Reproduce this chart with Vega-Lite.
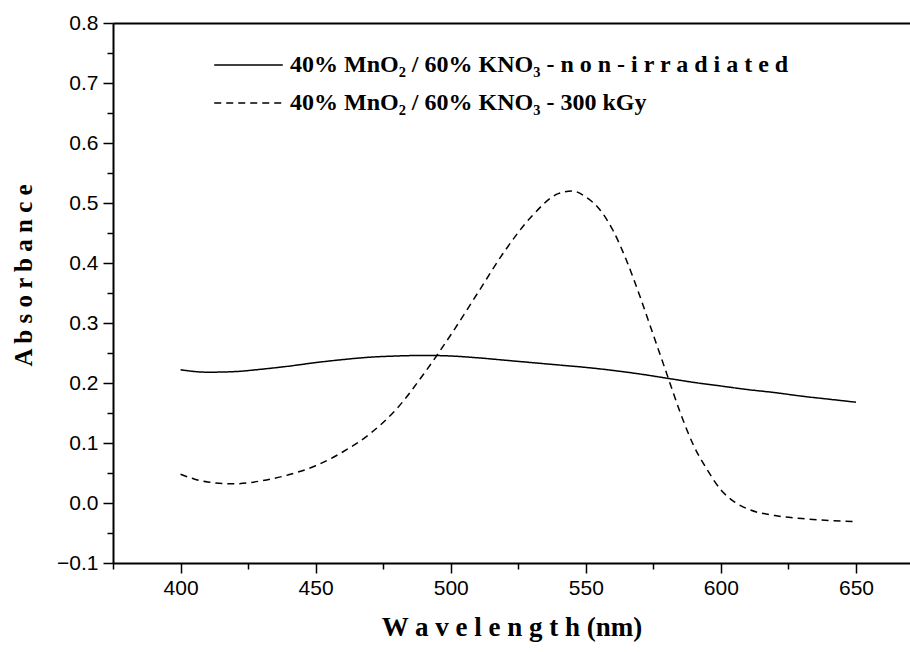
{
  "$schema": "https://vega.github.io/schema/vega-lite/v6.json",
  "width": 797,
  "height": 540,
  "autosize": "none",
  "padding": {"left": 113, "top": 23, "right": 0, "bottom": 89},
  "background": "white",
  "config": {
    "view": {"stroke": null},
    "axis": {"domainColor": "black", "tickColor": "black", "labelColor": "black", "titleColor": "black", "grid": false, "domainWidth": 2, "tickWidth": 1.5}
  },
  "data": {
    "values": [
      {"series": "s1", "wavelength": 400, "absorbance": 0.222},
      {"series": "s1", "wavelength": 410, "absorbance": 0.218},
      {"series": "s1", "wavelength": 420, "absorbance": 0.219},
      {"series": "s1", "wavelength": 430, "absorbance": 0.223},
      {"series": "s1", "wavelength": 440, "absorbance": 0.228},
      {"series": "s1", "wavelength": 450, "absorbance": 0.234},
      {"series": "s1", "wavelength": 460, "absorbance": 0.239},
      {"series": "s1", "wavelength": 470, "absorbance": 0.243},
      {"series": "s1", "wavelength": 480, "absorbance": 0.245},
      {"series": "s1", "wavelength": 490, "absorbance": 0.246},
      {"series": "s1", "wavelength": 500, "absorbance": 0.245},
      {"series": "s1", "wavelength": 510, "absorbance": 0.242},
      {"series": "s1", "wavelength": 520, "absorbance": 0.238},
      {"series": "s1", "wavelength": 530, "absorbance": 0.234},
      {"series": "s1", "wavelength": 540, "absorbance": 0.230},
      {"series": "s1", "wavelength": 550, "absorbance": 0.226},
      {"series": "s1", "wavelength": 560, "absorbance": 0.221},
      {"series": "s1", "wavelength": 570, "absorbance": 0.215},
      {"series": "s1", "wavelength": 580, "absorbance": 0.208},
      {"series": "s1", "wavelength": 590, "absorbance": 0.201},
      {"series": "s1", "wavelength": 600, "absorbance": 0.195},
      {"series": "s1", "wavelength": 610, "absorbance": 0.189},
      {"series": "s1", "wavelength": 620, "absorbance": 0.184},
      {"series": "s1", "wavelength": 630, "absorbance": 0.178},
      {"series": "s1", "wavelength": 640, "absorbance": 0.173},
      {"series": "s1", "wavelength": 650, "absorbance": 0.168},
      {"series": "s2", "wavelength": 400, "absorbance": 0.048},
      {"series": "s2", "wavelength": 405, "absorbance": 0.040},
      {"series": "s2", "wavelength": 410, "absorbance": 0.035},
      {"series": "s2", "wavelength": 420, "absorbance": 0.032},
      {"series": "s2", "wavelength": 430, "absorbance": 0.037},
      {"series": "s2", "wavelength": 440, "absorbance": 0.047},
      {"series": "s2", "wavelength": 450, "absorbance": 0.062},
      {"series": "s2", "wavelength": 460, "absorbance": 0.085},
      {"series": "s2", "wavelength": 470, "absorbance": 0.115},
      {"series": "s2", "wavelength": 480, "absorbance": 0.157},
      {"series": "s2", "wavelength": 490, "absorbance": 0.215},
      {"series": "s2", "wavelength": 500, "absorbance": 0.28},
      {"series": "s2", "wavelength": 510, "absorbance": 0.35},
      {"series": "s2", "wavelength": 520, "absorbance": 0.42},
      {"series": "s2", "wavelength": 530, "absorbance": 0.478},
      {"series": "s2", "wavelength": 540, "absorbance": 0.516},
      {"series": "s2", "wavelength": 545, "absorbance": 0.52},
      {"series": "s2", "wavelength": 550, "absorbance": 0.51},
      {"series": "s2", "wavelength": 555, "absorbance": 0.49},
      {"series": "s2", "wavelength": 560, "absorbance": 0.455},
      {"series": "s2", "wavelength": 565, "absorbance": 0.405},
      {"series": "s2", "wavelength": 570, "absorbance": 0.345},
      {"series": "s2", "wavelength": 575, "absorbance": 0.28},
      {"series": "s2", "wavelength": 580, "absorbance": 0.215},
      {"series": "s2", "wavelength": 585, "absorbance": 0.15},
      {"series": "s2", "wavelength": 590, "absorbance": 0.095},
      {"series": "s2", "wavelength": 595, "absorbance": 0.055},
      {"series": "s2", "wavelength": 600, "absorbance": 0.022},
      {"series": "s2", "wavelength": 605, "absorbance": 0.002},
      {"series": "s2", "wavelength": 610, "absorbance": -0.01},
      {"series": "s2", "wavelength": 620, "absorbance": -0.021},
      {"series": "s2", "wavelength": 630, "absorbance": -0.026},
      {"series": "s2", "wavelength": 640, "absorbance": -0.029},
      {"series": "s2", "wavelength": 650, "absorbance": -0.031}
    ]
  },
  "layer": [
    {
      "mark": {"type": "line", "color": "black", "strokeWidth": 1.5, "interpolate": "monotone"},
      "encoding": {
        "x": {
          "field": "wavelength", "type": "quantitative",
          "scale": {"domain": [375, 670], "nice": false, "zero": false},
          "axis": {"orient": "bottom", "values": [400, 450, 500, 550, 600, 650], "tickSize": 10, "labelFont": "Liberation Sans", "labelFontSize": 21, "labelPadding": 4,
                   "title": "W a v e l e n g t h (nm)", "titleFont": "Liberation Serif", "titleFontSize": 27, "titleFontWeight": "bold", "titlePadding": 16}
        },
        "y": {
          "field": "absorbance", "type": "quantitative",
          "scale": {"domain": [-0.1, 0.8], "nice": false, "zero": false},
          "axis": {"orient": "left", "values": [-0.1, 0, 0.1, 0.2, 0.3, 0.4, 0.5, 0.6, 0.7, 0.8], "format": ".1f", "tickSize": 10, "labelFont": "Liberation Sans", "labelFontSize": 21, "labelPadding": 5,
                   "title": "A b s o r b a n c e", "titleFont": "Liberation Serif", "titleFontSize": 25, "titleFontWeight": "bold", "titlePadding": 20, "titleY": 252}
        },
        "strokeDash": {
          "field": "series", "type": "nominal",
          "scale": {"domain": ["s1", "s2"], "range": [[1, 0], [7, 5]]},
          "legend": {
            "orient": "none", "legendX": 100, "legendY": 31, "title": null,
            "labelExpr": "datum.value == 's1' ? '40% MnO₂ / 60% KNO₃ - n o n - i r r a d i a t e d' : '40% MnO₂ / 60% KNO₃ - 300 kGy'",
            "symbolType": "stroke", "symbolSize": 4700, "symbolStrokeWidth": 1.5, "symbolStrokeColor": "black",
            "clipHeight": 22, "rowPadding": 14, "labelFont": "Liberation Serif", "labelFontSize": 24, "labelFontWeight": "bold", "labelColor": "black", "labelLimit": 800, "labelOffset": 6
          }
        }
      }
    },
    {
      "mark": {"type": "point", "opacity": 0},
      "encoding": {
        "x": {"field": "wavelength", "type": "quantitative",
              "axis": {"orient": "bottom", "values": [375, 425, 475, 525, 575, 625], "tickSize": 6, "labels": false, "domain": false, "title": null}},
        "y": {"field": "absorbance", "type": "quantitative",
              "axis": {"orient": "left", "values": [-0.05, 0.05, 0.15, 0.25, 0.35, 0.45, 0.55, 0.65, 0.75], "tickSize": 6, "labels": false, "domain": false, "title": null}}
      }
    },
    {
      "mark": {"type": "point", "opacity": 0},
      "encoding": {
        "x": {"field": "wavelength", "type": "quantitative",
              "axis": {"orient": "top", "ticks": false, "labels": false, "domain": true, "title": null}},
        "y": {"field": "absorbance", "type": "quantitative", "axis": null}
      }
    }
  ],
  "resolve": {"axis": {"x": "independent", "y": "independent"}}
}
